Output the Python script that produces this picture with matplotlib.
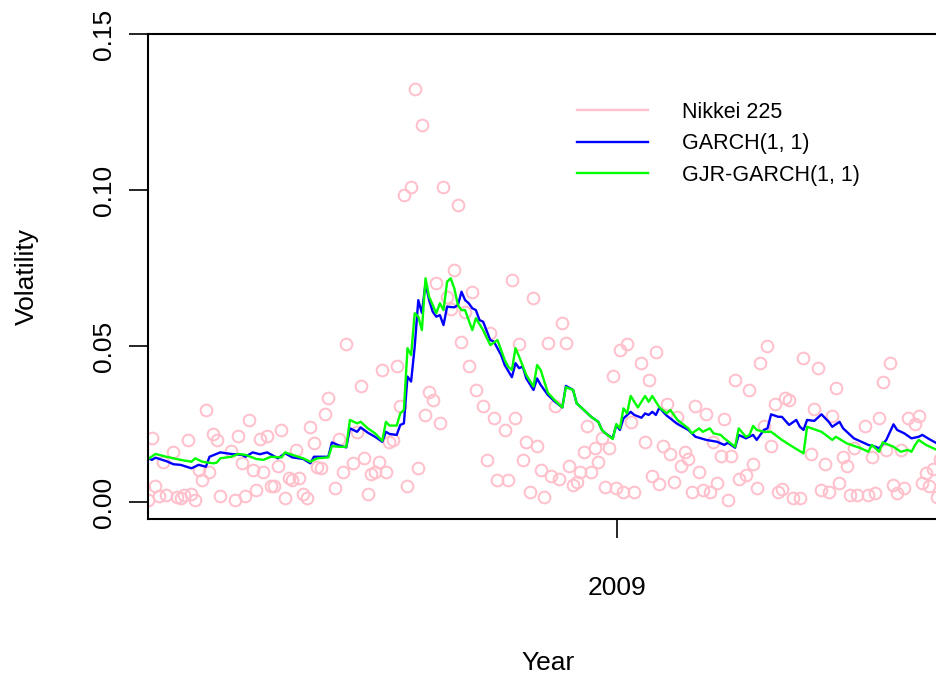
import matplotlib
matplotlib.use("Agg")
import matplotlib.pyplot as plt
from matplotlib.lines import Line2D

plt.rcParams['font.family'] = ['Liberation Sans', 'DejaVu Sans']

# ---- data (trading-day index, absolute daily log return of Nikkei 225) ----
ret_day = [0, 1, 2, 3, 4, 5, 7, 8, 9, 10, 11, 12, 13, 14, 15, 16, 17, 18, 19, 20,
           23, 24, 25, 26, 27, 28, 29, 30, 31, 32, 33, 34, 35, 36, 37, 38, 39, 40,
           41, 42, 43, 44, 45, 46, 47, 48, 49, 50, 52, 53, 54, 55,
           57, 58, 59, 60, 61, 62, 63, 64, 65, 66, 67, 68, 69, 70, 71, 72, 73, 74,
           75, 76, 77, 78, 79, 80, 81, 82, 83, 84, 85, 86, 87, 88, 89, 90, 91, 93,
           94, 95, 96, 97, 99, 100, 101, 102, 103, 104, 105, 106, 107, 108, 109,
           110, 111, 112, 113, 114, 115, 116, 117, 118, 119, 120, 121, 122, 123,
           124, 125, 126, 127, 128, 129, 130, 131, 132, 133, 134, 135, 137, 138,
           139, 140, 141, 142, 143, 144, 145, 146, 147, 148, 149, 150, 151, 152,
           153, 154, 155, 156, 157, 158, 159, 160, 161, 162, 163, 164, 166, 167,
           168, 169, 170, 171, 172, 173, 174, 175, 176, 177, 178, 179, 181, 182,
           184, 185, 186, 187, 188, 189, 190, 191, 192, 193, 194, 195, 196, 197,
           199, 200, 201, 202, 203, 204, 205, 206, 207, 208, 209, 210, 211, 213,
           214, 215, 216, 217, 218, 219, 220]
ret_val = [0.0006, 0.0206, 0.0052, 0.0019, 0.0129, 0.0022, 0.0161, 0.0017, 0.0012,
           0.0022, 0.0199, 0.0025, 0.0006, 0.0103, 0.0071, 0.0295, 0.0097, 0.0218,
           0.0199, 0.0019, 0.0164, 0.0006, 0.0213, 0.0126, 0.0019, 0.0263, 0.0103,
           0.0038, 0.0201, 0.0097, 0.0213, 0.0051, 0.0051, 0.0115, 0.0231, 0.0012,
           0.0078, 0.0071, 0.0167, 0.0078, 0.0025, 0.0012, 0.0239, 0.0188, 0.0113,
           0.0110, 0.0282, 0.0334, 0.0046, 0.0201, 0.0097, 0.0506,
           0.0124, 0.0223, 0.0373, 0.0140, 0.0026, 0.0090, 0.0097, 0.0129, 0.0423,
           0.0097, 0.0193, 0.0199, 0.0436, 0.0309, 0.0984, 0.0051, 0.1009, 0.1323,
           0.0108, 0.1208, 0.0279, 0.0354, 0.0327, 0.0701, 0.0252, 0.1009, 0.0658,
           0.0617, 0.0744, 0.0951, 0.0514, 0.0608, 0.0436, 0.0674, 0.0359, 0.0309,
           0.0135, 0.0541, 0.0270, 0.0071, 0.0231, 0.0071, 0.0712, 0.0270, 0.0506,
           0.0135, 0.0191, 0.0033, 0.0655, 0.0180, 0.0103, 0.0015, 0.0509, 0.0083,
           0.0309, 0.0073, 0.0573, 0.0509, 0.0115, 0.0054, 0.0065, 0.0097, 0.0161,
           0.0244, 0.0097, 0.0172, 0.0129, 0.0206, 0.0047, 0.0174, 0.0405, 0.0044,
           0.0487, 0.0033, 0.0506, 0.0257, 0.0033, 0.0444, 0.0193, 0.0391, 0.0084,
           0.0482, 0.0058, 0.0179, 0.0314, 0.0154, 0.0063, 0.0273, 0.0116, 0.0161,
           0.0137, 0.0033, 0.0309, 0.0095, 0.0038, 0.0281, 0.0033, 0.0193, 0.0060,
           0.0148, 0.0265, 0.0006, 0.0148, 0.0391, 0.0073, 0.0087, 0.0359, 0.0122,
           0.0044, 0.0444, 0.0244, 0.0501, 0.0179, 0.0314, 0.0033, 0.0041, 0.0332,
           0.0327, 0.0012, 0.0012, 0.0462, 0.0153, 0.0297, 0.0428, 0.0038, 0.0122,
           0.0033, 0.0276, 0.0366, 0.0060, 0.0143, 0.0116, 0.0022, 0.0172, 0.0022,
           0.0244, 0.0022, 0.0145, 0.0028, 0.0270, 0.0386, 0.0167, 0.0444, 0.0054,
           0.0028, 0.0167, 0.0046, 0.0270, 0.0250, 0.0277, 0.0060, 0.0092, 0.0052,
           0.0106, 0.0017, 0.0137]

garch_day = [0, 1, 2, 5, 7, 9, 12, 14, 16, 17, 20, 23, 26, 27, 29, 31, 33, 36, 38,
             40, 43, 45, 46, 49, 50, 51, 53, 55, 56, 58, 59, 61, 63, 65, 66, 67, 69,
             70, 71, 72, 73, 74, 75, 76, 77, 78, 79, 80, 81, 82, 83, 85, 86, 87, 88,
             89, 90, 91, 92, 93, 95, 96, 98, 99, 101, 102, 103, 104, 105, 107, 108,
             109, 111, 113, 115, 116, 118, 119, 121, 123, 125, 126, 127, 128, 129,
             130, 131, 132, 134, 135, 137, 138, 139, 140, 141, 142, 143, 144, 145,
             147, 150, 152, 155, 158, 160, 161, 163, 164, 166, 168, 169, 171, 172,
             173, 175, 176, 178, 180, 181, 182, 183, 185, 187, 189, 190, 192, 193,
             196, 199, 200, 202, 203, 205, 207, 208, 210, 212, 214, 215, 217, 219, 220]
garch_val = [0.0140, 0.0135, 0.0142, 0.0131, 0.0121, 0.0119, 0.0108, 0.0119, 0.0113,
             0.0145, 0.0159, 0.0154, 0.0151, 0.0145, 0.0159, 0.0153, 0.0159, 0.0140,
             0.0156, 0.0143, 0.0138, 0.0124, 0.0145, 0.0145, 0.0145, 0.0191, 0.0181,
             0.0175, 0.0236, 0.0225, 0.0239, 0.0222, 0.0209, 0.0193, 0.0225, 0.0218,
             0.0215, 0.0247, 0.0252, 0.0402, 0.0386, 0.0498, 0.0647, 0.0606, 0.0701,
             0.0647, 0.0610, 0.0594, 0.0599, 0.0567, 0.0626, 0.0624, 0.0631, 0.0674,
             0.0647, 0.0637, 0.0621, 0.0615, 0.0583, 0.0578, 0.0519, 0.0514, 0.0471,
             0.0439, 0.0400, 0.0445, 0.0429, 0.0434, 0.0396, 0.0359, 0.0396, 0.0375,
             0.0343, 0.0321, 0.0303, 0.0372, 0.0359, 0.0316, 0.0295, 0.0273, 0.0257,
             0.0231, 0.0220, 0.0212, 0.0204, 0.0247, 0.0231, 0.0268, 0.0289, 0.0279,
             0.0270, 0.0284, 0.0279, 0.0289, 0.0279, 0.0303, 0.0289, 0.0277, 0.0268,
             0.0250, 0.0231, 0.0209, 0.0199, 0.0193, 0.0183, 0.0190, 0.0174, 0.0215,
             0.0204, 0.0215, 0.0199, 0.0231, 0.0236, 0.0281, 0.0273, 0.0273, 0.0247,
             0.0263, 0.0241, 0.0231, 0.0263, 0.0260, 0.0281, 0.0257, 0.0241, 0.0257,
             0.0236, 0.0204, 0.0188, 0.0183, 0.0177, 0.0172, 0.0199, 0.0249, 0.0231,
             0.0220, 0.0204, 0.0209, 0.0215, 0.0201, 0.0188, 0.0186]

gjr_day = [0, 2, 5, 7, 9, 12, 13, 15, 18, 19, 20, 23, 25, 27, 30, 32, 34, 37, 38,
           40, 43, 45, 47, 50, 51, 53, 55, 56, 58, 59, 61, 63, 65, 66, 67, 69, 70,
           71, 72, 73, 74, 75, 76, 77, 78, 80, 81, 82, 83, 84, 85, 86, 87, 88, 90,
           91, 93, 95, 97, 99, 100, 101, 102, 103, 105, 107, 108, 109, 111, 113,
           115, 116, 118, 119, 121, 123, 125, 126, 127, 129, 130, 131, 132, 133,
           134, 135, 136, 138, 139, 140, 141, 142, 144, 145, 147, 150, 151, 153,
           154, 156, 157, 159, 160, 163, 164, 166, 167, 168, 169, 171, 173, 176,
           179, 182, 183, 187, 190, 191, 194, 198, 200, 201, 202, 203, 204, 207,
           209, 211, 212, 213, 214, 216, 219, 220]
gjr_val = [0.0138, 0.0154, 0.0145, 0.0140, 0.0135, 0.0129, 0.0140, 0.0129, 0.0124,
           0.0126, 0.0140, 0.0145, 0.0154, 0.0151, 0.0138, 0.0135, 0.0145, 0.0143,
           0.0159, 0.0151, 0.0140, 0.0129, 0.0140, 0.0143, 0.0179, 0.0177, 0.0177,
           0.0263, 0.0252, 0.0257, 0.0236, 0.0220, 0.0196, 0.0257, 0.0245, 0.0245,
           0.0284, 0.0295, 0.0493, 0.0471, 0.0605, 0.0594, 0.0551, 0.0717, 0.0658,
           0.0605, 0.0637, 0.0615, 0.0706, 0.0717, 0.0685, 0.0631, 0.0615, 0.0615,
           0.0551, 0.0589, 0.0551, 0.0503, 0.0519, 0.0455, 0.0433, 0.0423, 0.0493,
           0.0466, 0.0407, 0.0370, 0.0439, 0.0423, 0.0350, 0.0325, 0.0303, 0.0368,
           0.0359, 0.0316, 0.0295, 0.0273, 0.0257, 0.0231, 0.0220, 0.0202, 0.0250,
           0.0236, 0.0300, 0.0284, 0.0340, 0.0321, 0.0303, 0.0340, 0.0321, 0.0340,
           0.0321, 0.0303, 0.0284, 0.0295, 0.0263, 0.0236, 0.0220, 0.0236, 0.0225,
           0.0236, 0.0220, 0.0215, 0.0204, 0.0177, 0.0236, 0.0209, 0.0215, 0.0244,
           0.0231, 0.0225, 0.0225, 0.0199, 0.0177, 0.0156, 0.0241, 0.0225, 0.0199,
           0.0209, 0.0188, 0.0172, 0.0161, 0.0183, 0.0172, 0.0161, 0.0191, 0.0177,
           0.0161, 0.0167, 0.0161, 0.0183, 0.0199, 0.0183, 0.0167, 0.0165]

year_tick_pos = [130.2]
year_tick_lab = ['2009']
y_ticks = [0.00, 0.05, 0.10, 0.15]
y_tick_lab = ['0.00', '0.05', '0.10', '0.15']
legend_labels = ['Nikkei 225', 'GARCH(1, 1)', 'GJR-GARCH(1, 1)']
colors = ['#FFC0CB', '#0000FF', '#00FF00']

# ---- figure ----
W, H = 936, 675
fig = plt.figure(figsize=(W / 100, H / 100), dpi=100)
ax = fig.add_axes([148 / W, (H - 519) / H, 800 / W, 485 / H])

ax.plot(ret_day, ret_val, linestyle='none', marker='o', mfc='none',
        mec=colors[0], ms=8.4, mew=1.45)
ax.plot(garch_day, garch_val, color=colors[1], lw=1.7)
ax.plot(gjr_day, gjr_val, color=colors[2], lw=1.7)

ax.set_xlim(-0.083, -0.083 + 800 / 3.6)
ax.set_ylim(-0.00545, 0.15)

for s in ax.spines.values():
    s.set_linewidth(1.5)

ax.set_xticks(year_tick_pos)
ax.set_xticklabels(year_tick_lab)
ax.set_yticks(y_ticks)
ax.set_yticklabels(y_tick_lab, rotation=90, va='center')
ax.tick_params(axis='both', direction='out', length=13.7, width=1.2,
               labelsize=19, colors='black')
ax.tick_params(axis='x', pad=27)
ax.tick_params(axis='y', pad=9)

ax.set_xlabel('Year', fontsize=19)
ax.set_ylabel('Volatility', fontsize=19)
ax.xaxis.set_label_coords(0.5, -0.273)
ax.yaxis.set_label_coords(-0.1364, 0.5)

handles = [Line2D([], [], color=c, lw=1.7) for c in colors]
ax.legend(handles, legend_labels, loc='upper left',
          bbox_to_anchor=(576.7 / W, 1 - 101.5 / H), bbox_transform=fig.transFigure,
          frameon=False, fontsize=15.5, borderpad=0, borderaxespad=0,
          handlelength=3.3, handletextpad=1.6, labelspacing=0.5)

fig.savefig('out.png', dpi=100)
